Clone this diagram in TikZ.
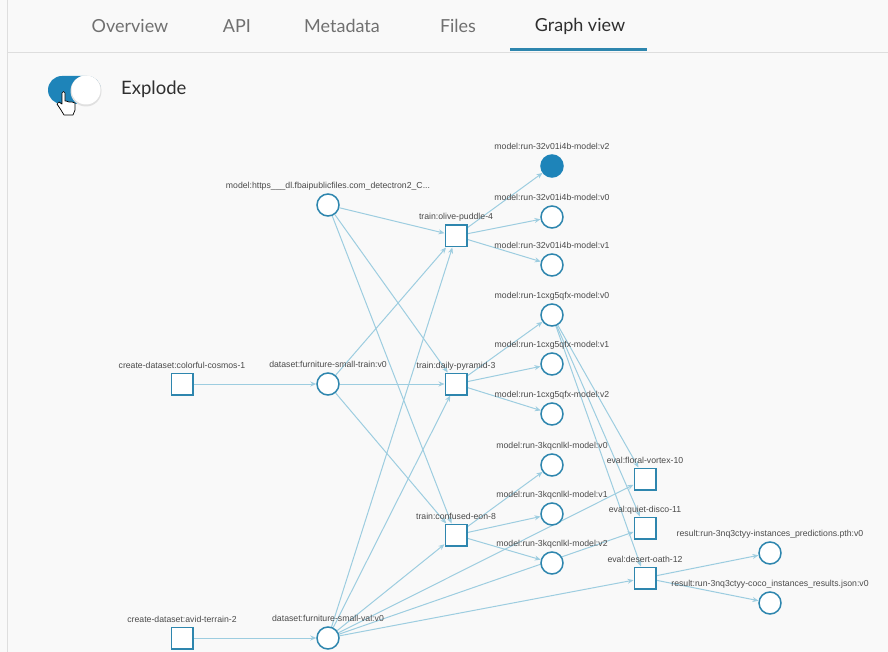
\documentclass[tikz,border=0pt]{standalone}
\usepackage{fontspec}
\setmainfont{Lato}
\newfontfamily\lblfont{Liberation Sans}
\usepackage{xcolor}
\usetikzlibrary{arrows.meta,backgrounds}
\definecolor{pagebg}{HTML}{F9F9F9}
\definecolor{edgeblue}{HTML}{9DCDE0}
\definecolor{nodeblue}{HTML}{2E86AE}
\definecolor{fillblue}{HTML}{1E84B9}
\definecolor{tabgray}{HTML}{707070}
\definecolor{tabdark}{HTML}{2F2F2F}
\definecolor{lblgray}{HTML}{4A4A4A}
\tikzset{
    every label/.style={font=\lblfont\fontsize{8.7}{10}\selectfont, text=lblgray,
        inner sep=0pt, text height=6.4pt, text depth=1.8pt, label distance=2.5pt},
    artifact/.style={circle, draw=nodeblue, line width=1.5pt, fill=white,
        minimum size=22pt, inner sep=0pt},
    runbox/.style={rectangle, draw=nodeblue, line width=1.5pt, fill=white,
        minimum size=21.5pt, inner sep=0pt},
    flow/.style={draw=edgeblue, line width=1pt, -{Stealth[length=6pt,width=5pt]}},
    tab/.style={font=\fontsize{18}{21}\selectfont, text=tabgray, inner sep=0pt}
}

\begin{document}
\begin{tikzpicture}[x=1pt, y=-1pt]
    \begin{pgfonlayer}{background}
        \fill[pagebg] (0,0) rectangle (888,652);
    \end{pgfonlayer}
    \useasboundingbox (0,0) rectangle (888,652);

    % Tabs
    \draw[black!13, line width=0.8pt] (7,0) -- (7,652);
    \draw[black!13, line width=0.8pt] (7,52) -- (888,52);
    \node[tab] (tabov) at (130,26) {Overview};
    \node[tab] (tabapi) at (237,26) {API};
    \node[tab] (tabmeta) at (342,26) {Metadata};
    \node[tab] (tabfiles) at (458,26) {Files};
    \node[tab, text=tabdark] (tabgraph) at (580,26) {Graph view};
    \draw[nodeblue, line width=3pt] (510,50) -- (647,50);

    % Explode toggle
    \fill[fillblue, rounded corners=14pt] (48,76) rectangle (101,104);
    \fill[black!12] (86,91) circle (15.5);
    \fill[white] (86,90) circle (14.5);
    \node[font=\fontsize{18.5}{21}\selectfont, text=tabdark, anchor=west, inner sep=0pt]
        (explode) at (121,89) {Explode};
    % pointer hand
    \draw[black, line width=0.7pt, fill=white, line join=round]
        (62,93) -- (62,104) -- (59,102) -- (57,104) -- (61,110) -- (64,115) -- (73,115)
        -- (75,110) -- (75,103) -- (72,102) -- (69,102) -- (66,101) -- (65,101) -- (65,93)
        -- (63.5,91.5) -- cycle;

    % Sources
    \node[runbox, label=above:{create-dataset:colorful-cosmos-1}] (cdcosmos) at (182,384) {};
    \node[runbox, label=above:{create-dataset:avid-terrain-2}] (cdterrain) at (182,638) {};
    \node[artifact, label=above:{model:https\_\_\_dl.fbaipublicfiles.com\_detectron2\_C...}] (modelc) at (328,205) {};
    \node[artifact, label=above:{dataset:furniture-small-train:v0}] (dstrain) at (328,384) {};
    \node[artifact, label=above:{dataset:furniture-small-val:v0}] (dsval) at (328,638) {};

    % Training runs
    \node[runbox, label=above:{train:olive-puddle-4}] (trainolive) at (456,236) {};
    \node[runbox, label=above:{train:daily-pyramid-3}] (traindaily) at (456,384) {};
    \node[runbox, label=above:{train:confused-eon-8}] (traineon) at (456,535) {};

    % Model versions
    \node[artifact, fill=fillblue, draw=fillblue, label=above:{model:run-32v01i4b-model:v2}] (olivev2) at (552,166) {};
    \node[artifact, label=above:{model:run-32v01i4b-model:v0}] (olivev0) at (552,217) {};
    \node[artifact, label=above:{model:run-32v01i4b-model:v1}] (olivev1) at (552,265) {};
    \node[artifact, label=above:{model:run-1cxg5qfx-model:v0}] (dailyv0) at (552,315) {};
    \node[artifact, label=above:{model:run-1cxg5qfx-model:v1}] (dailyv1) at (552,364) {};
    \node[artifact, label=above:{model:run-1cxg5qfx-model:v2}] (dailyv2) at (552,414) {};
    \node[artifact, label=above:{model:run-3kqcnlkl-model:v0}] (eonv0) at (552,465) {};
    \node[artifact, label=above:{model:run-3kqcnlkl-model:v1}] (eonv1) at (552,514) {};
    \node[artifact, label=above:{model:run-3kqcnlkl-model:v2}] (eonv2) at (552,563) {};

    % Evaluations
    \node[runbox, label=above:{eval:floral-vortex-10}] (evalfloral) at (645,479) {};
    \node[runbox, label=above:{eval:quiet-disco-11}] (evalquiet) at (645,528) {};
    \node[runbox, label=above:{eval:desert-oath-12}] (evaldesert) at (645,578) {};

    % Results
    \node[artifact, label=above:{result:run-3nq3ctyy-instances\_predictions.pth:v0}] (respred) at (770,553) {};
    \node[artifact, label=above:{result:run-3nq3ctyy-coco\_instances\_results.json:v0}] (rescoco) at (770,603) {};

    % Edges
    \begin{pgfonlayer}{background}
        \foreach \a/\b in {cdcosmos/dstrain, cdterrain/dsval,
                modelc/trainolive, modelc/traindaily, modelc/traineon,
                dstrain/trainolive, dstrain/traindaily, dstrain/traineon,
                dsval/trainolive, dsval/traindaily, dsval/traineon,
                dsval/evalfloral, dsval/evalquiet, dsval/evaldesert,
                trainolive/olivev2, trainolive/olivev0, trainolive/olivev1,
                traindaily/dailyv0, traindaily/dailyv1, traindaily/dailyv2,
                traineon/eonv0, traineon/eonv1, traineon/eonv2,
                dailyv0/evalfloral, dailyv0/evalquiet, dailyv0/evaldesert,
                evaldesert/respred, evaldesert/rescoco}
            \draw[flow] (\a) -- (\b);
    \end{pgfonlayer}
\end{tikzpicture}
\end{document}
